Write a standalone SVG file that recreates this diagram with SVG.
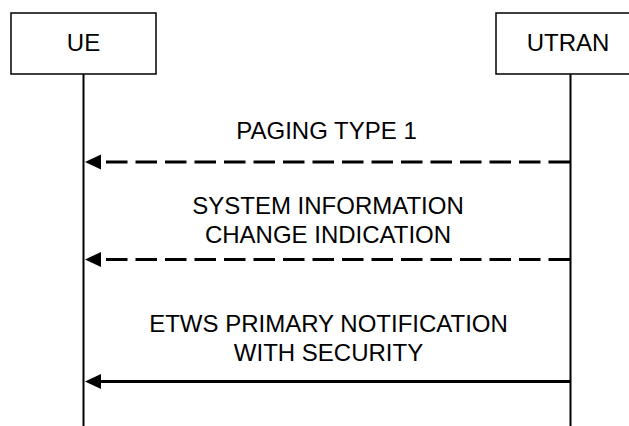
<svg xmlns="http://www.w3.org/2000/svg" width="629" height="426" viewBox="0 0 629 426">
<style>
.box{fill:#fff;stroke:#000;stroke-width:1.5}
.life{stroke:#000;stroke-width:2;fill:none}
.msg{stroke:#000;stroke-width:3;fill:none}
.dash{stroke-dasharray:21.5,8}
.t{font-family:"Liberation Sans",Arial,sans-serif;font-size:24px;fill:#000;text-anchor:middle}
</style>
<g id="UE">
<rect class="box" x="11" y="13" width="145" height="61"/>
<text class="t" x="83.5" y="51">UE</text>
</g>
<g id="UTRAN">
<rect class="box" x="496" y="13" width="150" height="61"/>
<text class="t" x="568" y="51">UTRAN</text>
</g>
<g id="lifelines">
<line class="life" x1="83.5" y1="74" x2="83.5" y2="426"/>
<line class="life" x1="570.5" y1="74" x2="570.5" y2="426"/>
</g>
<g id="connectors">
<line class="msg dash" x1="570" y1="162" x2="100" y2="162"/>
<path d="M85,162 L101,154.5 L101,169.5 Z" fill="#000"/>
<line class="msg dash" x1="570" y1="259.5" x2="100" y2="259.5"/>
<path d="M85,259.5 L101,252 L101,267 Z" fill="#000"/>
<line class="msg" x1="570" y1="381.5" x2="100" y2="381.5"/>
<path d="M85,381.5 L101,374 L101,389 Z" fill="#000"/>
</g>
<g id="labels">
<text class="t" x="326.5" y="138.5">PAGING TYPE 1</text>
<text class="t" x="328" y="213.5">SYSTEM INFORMATION</text>
<text class="t" x="328" y="243">CHANGE INDICATION</text>
<text class="t" x="328.5" y="332">ETWS PRIMARY NOTIFICATION</text>
<text class="t" x="328.5" y="361">WITH SECURITY</text>
</g>
</svg>
